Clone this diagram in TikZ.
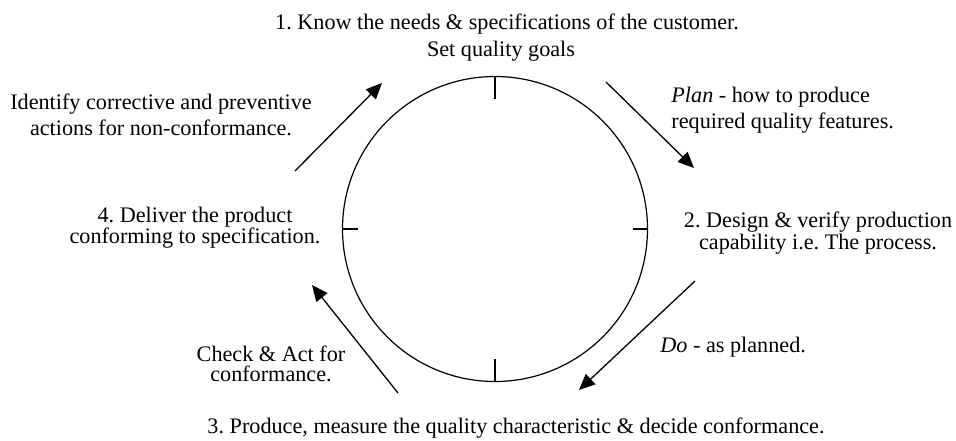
\documentclass[tikz,border=0pt]{standalone}
\usepackage{fontspec}
\setmainfont{Liberation Serif}
\usepackage{tikz}
\usetikzlibrary{arrows.meta,positioning}
\frenchspacing

\begin{document}
\begin{tikzpicture}[x=0.5pt, y=-0.5pt,
    lbl/.style={inner sep=0pt, font=\fontsize{11.1}{13}\selectfont},
    flow/.style={line width=0.65pt, -{Triangle[length=8pt, width=7pt]}},
    tick/.style={line width=0.65pt},
]
    \useasboundingbox (0,0) rectangle (956,440);

    % The cycle
    \node[circle, draw, line width=0.6pt, inner sep=0pt, outer sep=0pt,
          minimum size=152.5pt] (cyc) at (495,229) {};

    % Quarter ticks
    \draw[tick] (cyc.north) -- ++(0,22);
    \draw[tick] (cyc.south) -- ++(0,-23);
    \draw[tick] (cyc.west)  -- ++(15,0);
    \draw[tick] (cyc.east)  -- ++(-15,0);

    % Stage labels
    \node[lbl, anchor=base] (know) at (507,29) {1. Know the needs \& specifications of the customer.};
    \node[lbl, anchor=base] (goals) at (501,56) {Set quality goals};
    \node[lbl, anchor=center, align=center, font=\fontsize{11.1}{11}\selectfont] (design) at (818,233)
        {2. Design \& verify production\\ capability i.e. The process.};
    \node[lbl, anchor=base] (produce) at (516,433) {3. Produce, measure the quality characteristic \& decide conformance.};
    \node[lbl, anchor=center, align=center, font=\fontsize{11.1}{10.5}\selectfont] (deliver) at (195,228)
        {4. Deliver the product\\ conforming to specification.};

    % Step labels
    \node[lbl, anchor=west, align=left] (plan) at (671,110)
        {\textit{Plan} - how to produce\\ required quality features.};
    \node[lbl, anchor=base west] (doit) at (660,352) {\textit{Do} - as planned.};
    \node[lbl, anchor=center, align=center, font=\fontsize{11.1}{10}\selectfont] (check) at (271,364)
        {Check \& Act for\\ conformance.};
    \node[lbl, anchor=center, align=center] (ident) at (161,115)
        {Identify corrective and preventive\\ actions for non-conformance.};

    % Arrow ends
    \coordinate (planS) at (606,82);  \coordinate (planE) at (694,168);
    \coordinate (doS)   at (695,281); \coordinate (doE)   at (579,390);
    \coordinate (chkS)  at (398,393); \coordinate (chkE)  at (312,285);
    \coordinate (actS)  at (295,171); \coordinate (actE)  at (382,83);

    % Arrows
    \draw[flow] (planS) -- (planE);
    \draw[flow] (doS) -- (doE);
    \draw[flow] (chkS) -- (chkE);
    \draw[flow] (actS) -- (actE);
\end{tikzpicture}
\end{document}
